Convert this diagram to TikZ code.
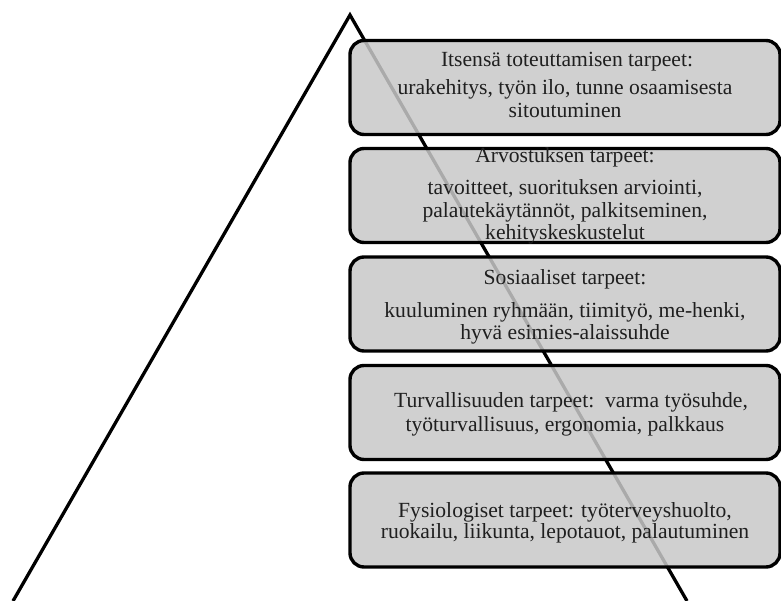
\documentclass[tikz,border=0pt]{standalone}
\usepackage{fontspec}
\setmainfont{Liberation Serif}
\begin{document}
\begin{tikzpicture}[x=1pt,y=-1pt,
  side/.style={line width=3.3pt,black,line join=miter},
  level/.style={draw=black,line width=3.4pt,rounded corners=14pt,
    fill={rgb,255:red,200;green,200;blue,200},fill opacity=0.85,
    minimum width=430pt,minimum height=94pt,inner sep=0pt},
  txt/.style={anchor=base,inner sep=0pt,text=black!88,
    font=\fontsize{21.6pt}{22pt}\selectfont}]
  \useasboundingbox (0,0) rectangle (781,601);
  \clip (0,0) rectangle (781,601);
  % pyramid outline
  \coordinate (apex) at (350,15);
  \coordinate (bl) at (13,601);
  \coordinate (br) at (687,601);
  \draw[side] (bl) -- (apex) -- (br);
  % need levels
  \node[level] (l1) at (565,87.5) {};
  \node[level] (l2) at (565,195.5) {};
  \node[level] (l3) at (565,304) {};
  \node[level] (l4) at (565,412.5) {};
  \node[level] (l5) at (565,520) {};
  % texts
  \node[txt] (t1a) at (567,67) {Itsensä toteuttamisen tarpeet:};
  \node[txt] (t1b) at (565,95) {urakehitys, työn ilo, tunne osaamisesta};
  \node[txt] (t1c) at (565,118) {sitoutuminen};
  \node[txt] (t2a) at (565,163) {Arvostuksen tarpeet:};
  \node[txt] (t2b) at (565,195) {tavoitteet, suorituksen arviointi,};
  \node[txt] (t2c) at (565,218) {palautekäytännöt, palkitseminen,};
  \node[txt] (t2d) at (565,240) {kehityskeskustelut};
  \node[txt] (t3a) at (565,285) {Sosiaaliset tarpeet:};
  \node[txt] (t3b) at (565,318) {kuuluminen ryhmään, tiimityö, me-henki,};
  \node[txt] (t3c) at (565,339) {hyvä esimies-alaissuhde};
  \node[txt] (t4a) at (571,407) {Turvallisuuden tarpeet:\ \ varma työsuhde,};
  \node[txt] (t4b) at (565,431) {työturvallisuus, ergonomia, palkkaus};
  \node[txt] (t5a) at (565,517) {Fysiologiset tarpeet: työterveyshuolto,};
  \node[txt] (t5b) at (565,538) {ruokailu, liikunta, lepotauot, palautuminen};
\end{tikzpicture}
\end{document}
